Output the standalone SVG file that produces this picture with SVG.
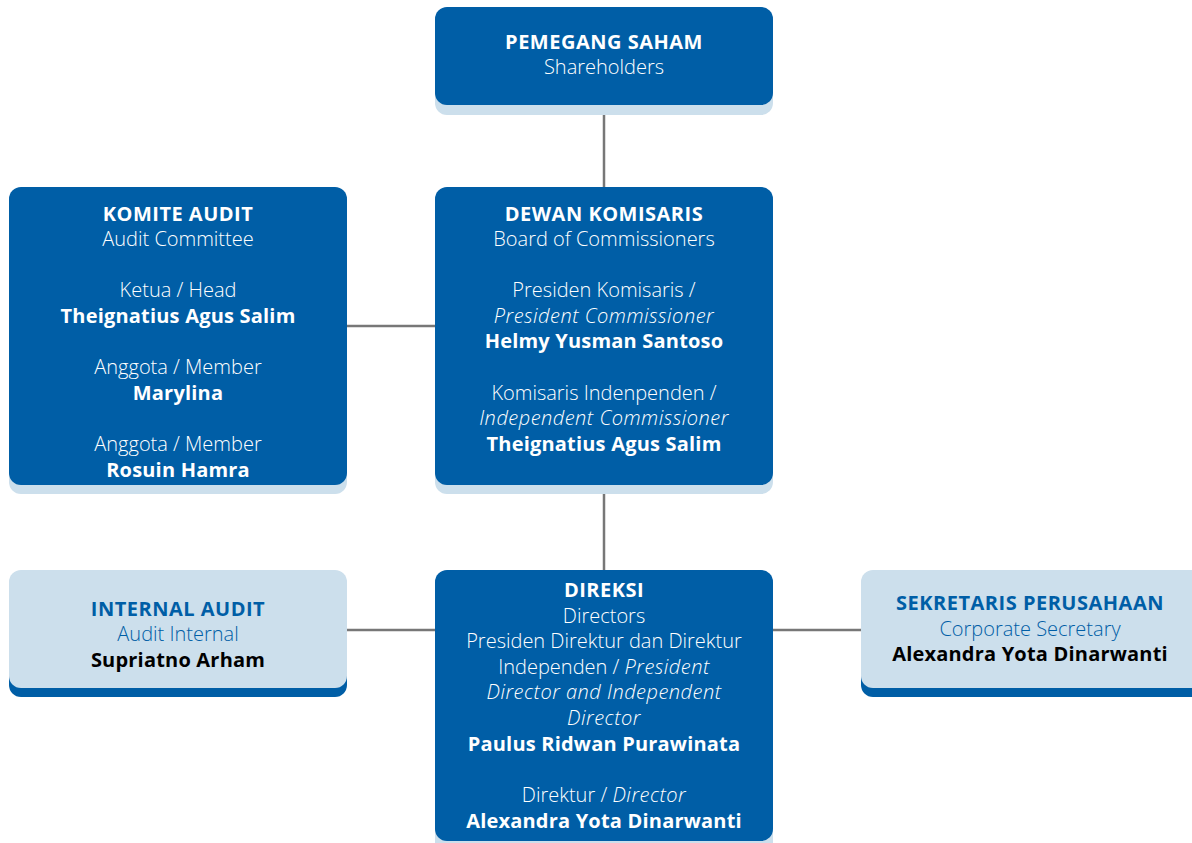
<svg xmlns="http://www.w3.org/2000/svg" width="1192" height="843" viewBox="0 0 1192 843">
<style>
.dk{fill:#005EA6}
.lt{fill:#CCDFEC}
.t{font-family:"Open Sans","Noto Sans","Liberation Sans",sans-serif;font-size:20px;text-anchor:middle}
.w{fill:#ffffff}
.b{font-weight:700;letter-spacing:0.2px}
.h{letter-spacing:0.5px}
.l{font-weight:300}
.i{font-style:italic;font-weight:300;letter-spacing:0.5px}
.hb{fill:#005EA6}
.k{fill:#000000}
.c{stroke:#777777;stroke-width:2.5;fill:none}
</style>
<rect width="1192" height="843" fill="#ffffff"/>
<g id="connectors">
<line class="c" x1="604" y1="110" x2="604" y2="187"/>
<line class="c" x1="347" y1="326" x2="435" y2="326"/>
<line class="c" x1="604" y1="490" x2="604" y2="570"/>
<line class="c" x1="347" y1="630" x2="435" y2="630"/>
<line class="c" x1="773" y1="630" x2="861" y2="630"/>
</g>
<g id="pemegang-saham">
<rect class="lt" x="435" y="17" width="338" height="98" rx="12"/>
<rect class="dk" x="435" y="7" width="338" height="98" rx="12"/>
<text class="t w b h" x="604" y="49">PEMEGANG SAHAM</text>
<text class="t w l" x="604" y="74">Shareholders</text>
</g>
<g id="komite-audit">
<rect class="lt" x="9" y="196" width="338" height="298" rx="12"/>
<rect class="dk" x="9" y="187" width="338" height="298" rx="12"/>
<text class="t w b h" x="178" y="221">KOMITE AUDIT</text>
<text class="t w l" x="178" y="246">Audit Committee</text>
<text class="t w l" x="178" y="297">Ketua / Head</text>
<text class="t w b" x="178" y="323">Theignatius Agus Salim</text>
<text class="t w l" x="178" y="374">Anggota / Member</text>
<text class="t w b" x="178" y="400">Marylina</text>
<text class="t w l" x="178" y="451">Anggota / Member</text>
<text class="t w b" x="178" y="477">Rosuin Hamra</text>
</g>
<g id="dewan-komisaris">
<rect class="lt" x="435" y="196" width="338" height="298" rx="12"/>
<rect class="dk" x="435" y="187" width="338" height="298" rx="12"/>
<text class="t w b h" x="604" y="221">DEWAN KOMISARIS</text>
<text class="t w l" x="604" y="246">Board of Commissioners</text>
<text class="t w l" x="604" y="297">Presiden Komisaris /</text>
<text class="t w i" x="604" y="323">President Commissioner</text>
<text class="t w b" x="604" y="348">Helmy Yusman Santoso</text>
<text class="t w l" x="604" y="400">Komisaris Indenpenden /</text>
<text class="t w i" x="604" y="425">Independent Commissioner</text>
<text class="t w b" x="604" y="451">Theignatius Agus Salim</text>
</g>
<g id="internal-audit">
<rect class="hb" x="9" y="579" width="338" height="118" rx="12"/>
<rect class="lt" x="9" y="570" width="338" height="118" rx="12"/>
<text class="t hb b h" x="178" y="616">INTERNAL AUDIT</text>
<text class="t hb l" x="178" y="641">Audit Internal</text>
<text class="t k b" x="178" y="667">Supriatno Arham</text>
</g>
<g id="direksi">
<rect class="lt" x="435" y="579" width="338" height="280" rx="12"/>
<rect class="dk" x="435" y="570" width="338" height="271" rx="12"/>
<text class="t w b h" x="604" y="597">DIREKSI</text>
<text class="t w l" x="604" y="623">Directors</text>
<text class="t w l" x="604" y="648">Presiden Direktur dan Direktur</text>
<text class="t w l" x="604" y="674">Independen / <tspan class="i">President</tspan></text>
<text class="t w i" x="604" y="699">Director and Independent</text>
<text class="t w i" x="604" y="725">Director</text>
<text class="t w b" x="604" y="751">Paulus Ridwan Purawinata</text>
<text class="t w l" x="604" y="802">Direktur / <tspan class="i">Director</tspan></text>
<text class="t w b" x="604" y="828">Alexandra Yota Dinarwanti</text>
</g>
<g id="sekretaris-perusahaan">
<rect class="hb" x="861" y="579" width="345" height="118" rx="12"/>
<rect class="lt" x="861" y="570" width="345" height="118" rx="12"/>
<text class="t hb b h" x="1030" y="610">SEKRETARIS PERUSAHAAN</text>
<text class="t hb l" x="1030" y="636">Corporate Secretary</text>
<text class="t k b" x="1030" y="661">Alexandra Yota Dinarwanti</text>
</g>
</svg>
